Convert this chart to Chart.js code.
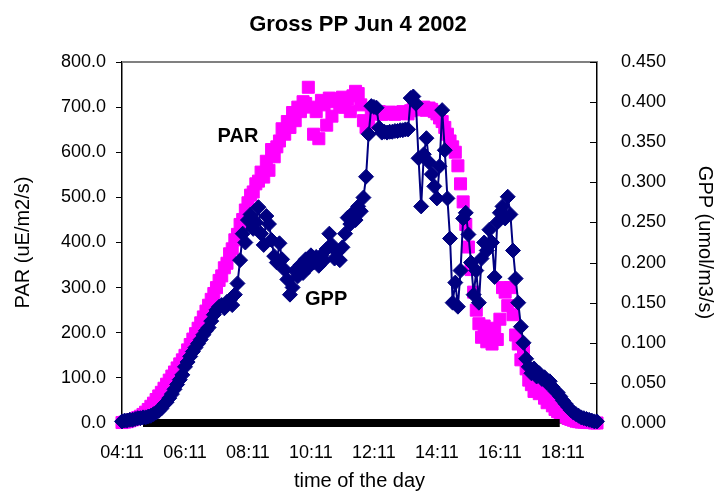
<!DOCTYPE html>
<html>
<head>
<meta charset="utf-8">
<style>
  html, body { margin: 0; padding: 0; background: #fff; }
  #wrap { width: 716px; height: 491px; }
</style>
<script src="https://cdn.jsdelivr.net/npm/chart.js@4/dist/chart.umd.min.js"></script>
</head>
<body>
<div id="wrap"><canvas id="myChart" width="716" height="491"></canvas></div>
<script>
// sampling grid of the logger: one reading every 5 minutes
const startTime = '04:11';
const stepMinutes = 5;
const endTime = '19:16';

// PAR (uE/m2/s)
const parValues = [
  1, 2, 3, 5, 7, 9, 12, 15, 19, 24, 30, 37, 44,
  52, 60, 68, 77, 86, 95, 104, 113, 122, 131, 140, 150,
  162, 174, 186, 198, 210, 222, 235, 248, 261, 274, 287, 300,
  316, 326, 344, 354, 375, 386, 406, 418, 440, 451, 472, 488,
  505, 512, 530, 536, 556, 545, 580, 560, 606, 590, 612, 625,
  652, 640, 668, 655, 688, 670, 700, 690, 712, 708, 744, 700,
  640, 690, 630, 715, 705, 660, 720, 680, 712, 718, 700, 722,
  700, 718, 690, 725, 735, 730, 705, 670, 655, 665, 685, 688,
  686, 690, 684, 687, 685, 689, 686, 684, 688, 686, 690, 687, 685,
  692, 697, 694, 699, 696, 700, 693, 698, 695, 690, 685, 676,
  668, 655, 640, 625, 612, 600, 570, 530, 490, 440, 390, 340, 290, 250,
  220, 190, 215, 180, 200, 175, 210, 185, 230,
  300, 290, 260, 300, 240,
  195, 175, 140, 165, 120,
  95, 85, 70, 75,
  65, 70, 55, 45, 50, 38, 30, 25, 22,
  18, 14, 10, 8, 6, 4, 3,
  2, 2, 1, 1, 1, 0, 0
];

// GPP (umol/m3/s)
const gppValues = [
  0.002, 0.003, 0.003, 0.004, 0.004, 0.005, 0.006, 0.006, 0.007, 0.007, 0.008, 0.009, 0.011,
  0.013, 0.015, 0.018, 0.023, 0.026, 0.031, 0.036, 0.042, 0.048, 0.054, 0.060, 0.070,
  0.076, 0.083, 0.089, 0.094, 0.099, 0.104, 0.110, 0.115, 0.119, 0.127, 0.135, 0.141,
  0.145, 0.147, 0.143, 0.151, 0.153, 0.147, 0.160, 0.174, 0.203, 0.236, 0.225, 0.253,
  0.260, 0.242, 0.250, 0.269, 0.236, 0.222, 0.258, 0.248, 0.228, 0.208, 0.200, 0.224,
  0.204, 0.191, 0.179, 0.160, 0.169, 0.190, 0.183, 0.197, 0.187, 0.204, 0.194, 0.209,
  0.200, 0.207, 0.196, 0.209, 0.203, 0.217, 0.236, 0.222, 0.205, 0.213, 0.203, 0.219,
  0.236, 0.256, 0.248, 0.262, 0.253, 0.270, 0.264, 0.281, 0.307, 0.360, 0.395, 0.394,
  0.393, 0.368, 0.362, 0.363, 0.362, 0.363, 0.363, 0.364, 0.364, 0.365, 0.365, 0.366, 0.366,
  0.405, 0.407, 0.398, 0.330, 0.270, 0.335, 0.355, 0.325, 0.310, 0.295, 0.280, 0.320,
  0.390, 0.340, 0.280, 0.230, 0.150, 0.175, 0.145, 0.190, 0.255, 0.262, 0.235, 0.200, 0.160,
  0.190, 0.150, 0.205, 0.225, 0.215, 0.241, 0.225, 0.182, 0.250, 0.262, 0.270, 0.255, 0.282, 0.260,
  0.215, 0.180, 0.150, 0.120, 0.100, 0.080, 0.070, 0.062, 0.068, 0.058, 0.062, 0.055, 0.057, 0.050, 0.052,
  0.045, 0.040, 0.038, 0.033, 0.028, 0.024, 0.020, 0.016, 0.013, 0.011, 0.009, 0.007, 0.006, 0.005, 0.004, 0.003, 0.002, 0.002
];

// black zero series
const zeroTimes = ['04:51', '18:05'];
const zeroValues = [0, 0];

const xTickLabels = ['04:11', '06:11', '08:11', '10:11', '12:11', '14:11', '16:11', '18:11'];
const parTickLabels = ['0.0', '100.0', '200.0', '300.0', '400.0', '500.0', '600.0', '700.0', '800.0'];
const gppTickLabels = ['0.000', '0.050', '0.100', '0.150', '0.200', '0.250', '0.300', '0.350', '0.400', '0.450'];

// text notes placed in data units
const noteTexts = ['PAR', 'GPP'];
const noteTimes = ['07:52', '10:40'];
const noteValues = [635, 0.154];
const noteAxes = ['yPar', 'yGpp'];

function toMin(s) {
  const p = s.split(':');
  return parseInt(p[0], 10) * 60 + parseInt(p[1], 10);
}
function fmtMin(m) {
  const h = Math.floor(m / 60), mm = Math.round(m % 60);
  return String(h).padStart(2, '0') + ':' + String(mm).padStart(2, '0');
}

const t0 = toMin(startTime);
const times = parValues.map((_, i) => t0 + i * stepMinutes);

const FONT = '"Liberation Sans", Arial, sans-serif';
Chart.defaults.font.family = FONT;
Chart.defaults.color = '#000';

// top frame line and the inward ticks of the right axis
const framePlugin = {
  id: 'frame',
  beforeDatasetsDraw(chart) {
    const {ctx, chartArea: a} = chart;
    ctx.save();
    ctx.strokeStyle = '#808080';
    ctx.lineWidth = 2;
    ctx.beginPath();
    ctx.moveTo(a.left, a.top);
    ctx.lineTo(a.right, a.top);
    ctx.stroke();
    const ys = chart.scales.yGpp;
    ctx.strokeStyle = '#000';
    ctx.lineWidth = 1;
    ys.ticks.forEach(t => {
      const y = Math.round(ys.getPixelForValue(t.value)) + 0.5;
      ctx.beginPath();
      ctx.moveTo(a.right - 7, y);
      ctx.lineTo(a.right, y);
      ctx.stroke();
    });
    ctx.restore();
  },
  afterDatasetsDraw(chart) {
    const {ctx} = chart;
    ctx.save();
    ctx.font = 'bold 20px ' + FONT;
    ctx.fillStyle = '#000';
    ctx.textAlign = 'center';
    ctx.textBaseline = 'middle';
    noteTexts.forEach((txt, i) => {
      const x = chart.scales.x.getPixelForValue(toMin(noteTimes[i]));
      const y = chart.scales[noteAxes[i]].getPixelForValue(noteValues[i]);
      ctx.fillText(txt, x, y);
    });
    ctx.restore();
  }
};

const ctx = document.getElementById('myChart').getContext('2d');
const myChart = new Chart(ctx, {
  type: 'line',
  data: {
    datasets: [
      {
        label: 'GPP',
        data: times.map((t, i) => ({x: t, y: gppValues[i]})),
        yAxisID: 'yGpp',
        order: 1,
        borderColor: '#000080',
        borderWidth: 2,
        tension: 0,
        pointStyle: 'rectRot',
        pointRadius: 7.5,
        pointBackgroundColor: '#000080',
        pointBorderColor: '#000080',
        pointBorderWidth: 1,
        clip: false
      },
      {
        label: 'zero',
        data: zeroTimes.map((t, i) => ({x: toMin(t), y: zeroValues[i]})),
        yAxisID: 'yPar',
        order: 2,
        borderColor: '#000',
        borderWidth: 8,
        borderCapStyle: 'butt',
        pointRadius: 0,
        clip: false
      },
      {
        label: 'PAR',
        data: times.map((t, i) => ({x: t, y: parValues[i]})),
        yAxisID: 'yPar',
        order: 3,
        showLine: false,
        pointStyle: 'rect',
        pointRadius: 8.5,
        pointBackgroundColor: '#FF00FF',
        pointBorderColor: '#FF00FF',
        pointBorderWidth: 1,
        clip: false
      }
    ]
  },
  options: {
    responsive: false,
    animation: false,
    events: [],
    layout: { padding: 0 },
    plugins: {
      legend: { display: false },
      tooltip: { enabled: false },
      title: {
        display: true,
        text: 'Gross PP Jun 4 2002',
        color: '#000',
        font: { size: 22, weight: 'bold', lineHeight: 1 },
        padding: { top: 14, bottom: 26 }
      }
    },
    scales: {
      x: {
        type: 'linear',
        min: t0,
        max: toMin(endTime),
        afterBuildTicks: s => { s.ticks = xTickLabels.map(l => ({value: toMin(l)})); },
        afterFit: s => { s.height = 68; },
        ticks: {
          autoSkip: false,
          maxRotation: 0,
          padding: 11,
          font: { size: 18 },
          callback: v => fmtMin(v)
        },
        grid: { display: false },
        border: { display: true, color: '#000', width: 1.5 },
        title: {
          display: true,
          text: 'time of the day',
          font: { size: 20, lineHeight: 1 },
          padding: { top: 0, bottom: 0 }
        }
      },
      yPar: {
        position: 'left',
        min: 0,
        max: 800,
        afterBuildTicks: s => { s.ticks = parTickLabels.map(l => ({value: parseFloat(l)})); },
        afterFit: s => { s.width = 122; },
        ticks: {
          padding: 10,
          font: { size: 18 },
          callback: v => v.toFixed(1)
        },
        grid: { drawOnChartArea: false, drawTicks: true, tickLength: 6, color: '#000' },
        border: { display: true, color: '#000', width: 1.5 },
        title: {
          display: true,
          text: 'PAR (uE/m2/s)',
          font: { size: 20, lineHeight: 1 },
          padding: { top: 13, bottom: 0 }
        }
      },
      yGpp: {
        position: 'right',
        min: 0,
        max: 0.45,
        afterBuildTicks: s => { s.ticks = gppTickLabels.map(l => ({value: parseFloat(l)})); },
        afterFit: s => { s.width = 119; },
        ticks: {
          padding: 16,
          font: { size: 18 },
          callback: v => v.toFixed(3)
        },
        grid: { display: false },
        border: { display: true, color: '#000', width: 1.5 },
        title: {
          display: true,
          text: 'GPP (umol/m3/s)',
          font: { size: 20, lineHeight: 1 },
          padding: { top: 1, bottom: 0 }
        }
      }
    }
  },
  plugins: [framePlugin]
});
</script>
</body>
</html>
